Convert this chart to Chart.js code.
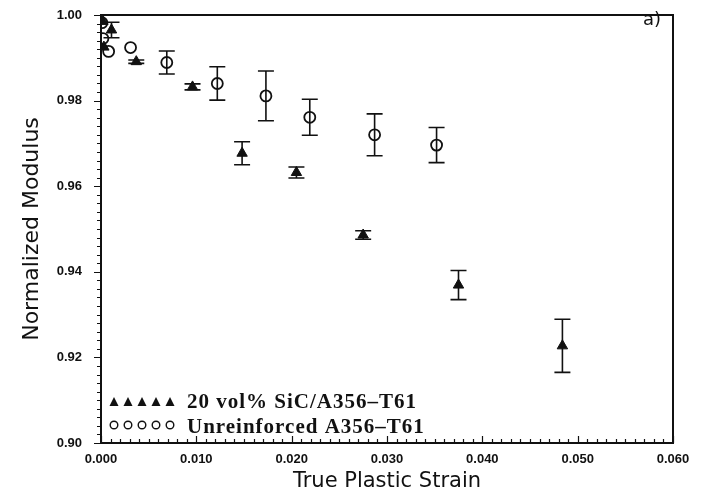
<!DOCTYPE html>
<html>
<head>
<meta charset="utf-8">
<script src="https://cdn.jsdelivr.net/npm/chart.js@4.4.0/dist/chart.umd.min.js"></script>
<style>
  html, body { margin: 0; padding: 0; background: #fff; }
  #wrap { width: 711px; height: 494px; }
</style>
</head>
<body>
<div id="wrap"><canvas id="grafico" width="711" height="494"></canvas></div>
<script>
// 20 vol% SiC/A356-T61 (filled triangles)
const strainSiC = [0.0002, 0.0011, 0.0003, 0.0037, 0.0096, 0.0148, 0.0205, 0.0275, 0.0375, 0.0484];
const modulusSiC = [0.9985, 0.9965, 0.9925, 0.9891, 0.9832, 0.9677, 0.9632, 0.9486, 0.9369, 0.9227];
const errSiC = [0, 0.0018, 0, 0.0004, 0.0007, 0.0027, 0.0013, 0.0010, 0.0034, 0.0062];

// Unreinforced A356-T61 (open circles)
const strainUnr = [0.0001, 0.0002, 0.0008, 0.0031, 0.0069, 0.0122, 0.0173, 0.0219, 0.0287, 0.0352];
const modulusUnr = [0.9982, 0.9945, 0.9915, 0.9924, 0.9889, 0.9840, 0.9811, 0.9761, 0.9720, 0.9696];
const errUnr = [0, 0, 0, 0, 0.0027, 0.0039, 0.0058, 0.0042, 0.0049, 0.0041];

const legendLabels = ['20 vol% SiC/A356\u2013T61', 'Unreinforced A356\u2013T61'];
const xTicks = [0, 0.01, 0.02, 0.03, 0.04, 0.05, 0.06];
const yTicks = [0.90, 0.92, 0.94, 0.96, 0.98, 1.00];

function pontos(xs, ys, errs) {
  return xs.map((x, i) => ({ x: x, y: ys[i], err: errs[i] }));
}

// barras de erro, moldura, ticks menores e legenda
const extras = {
  id: 'extras',
  beforeDatasetsDraw(chart) {
    const ctx = chart.ctx;
    const sx = chart.scales.x;
    const sy = chart.scales.y;
    ctx.save();
    ctx.strokeStyle = '#111';
    ctx.lineWidth = 1.6;
    chart.data.datasets.forEach((ds) => {
      ds.data.forEach((p) => {
        if (!p.err) return;
        const px = sx.getPixelForValue(p.x);
        const top = sy.getPixelForValue(p.y + p.err);
        const bot = sy.getPixelForValue(p.y - p.err);
        ctx.beginPath();
        ctx.moveTo(px, top); ctx.lineTo(px, bot);
        ctx.moveTo(px - 8, top); ctx.lineTo(px + 8, top);
        ctx.moveTo(px - 8, bot); ctx.lineTo(px + 8, bot);
        ctx.stroke();
      });
    });
    ctx.restore();
  },
  afterDraw(chart) {
    const ctx = chart.ctx;
    const a = chart.chartArea;
    const sx = chart.scales.x;
    const sy = chart.scales.y;
    ctx.save();
    ctx.strokeStyle = '#111';
    ctx.lineWidth = 2;
    ctx.strokeRect(a.left, a.top, a.right - a.left, a.bottom - a.top);

    ctx.lineWidth = 1.2;
    ctx.beginPath();
    for (let v = 0.90; v <= 1.0001; v += 0.002) {
      const py = Math.round(sy.getPixelForValue(v)) + 0.5;
      const major = Math.abs(Math.round(v * 50) - v * 50) < 1e-6;
      ctx.moveTo(a.left - (major ? 7 : 4), py);
      ctx.lineTo(a.left, py);
    }
    for (let v = 0; v <= 0.06001; v += 0.001) {
      const px = Math.round(sx.getPixelForValue(v)) + 0.5;
      const major = Math.abs(Math.round(v * 100) - v * 100) < 1e-6;
      ctx.moveTo(px, a.bottom);
      ctx.lineTo(px, a.bottom - (major ? 7 : 4));
    }
    ctx.stroke();

    // legenda dentro do grafico
    ctx.fillStyle = '#111';
    for (let i = 0; i < 5; i++) {
      const cx = 114 + i * 14;
      ctx.beginPath();
      ctx.moveTo(cx, 397);
      ctx.lineTo(cx - 4.5, 406);
      ctx.lineTo(cx + 4.5, 406);
      ctx.closePath();
      ctx.fill();
    }
    ctx.lineWidth = 1.4;
    for (let i = 0; i < 5; i++) {
      ctx.beginPath();
      ctx.arc(114 + i * 14, 425, 3.8, 0, Math.PI * 2);
      ctx.stroke();
    }
    ctx.font = 'bold 21px "Liberation Serif", serif';
    ctx.letterSpacing = '1px';
    ctx.textBaseline = 'middle';
    ctx.textAlign = 'left';
    ctx.fillText(legendLabels[0], 187, 403);
    ctx.fillText(legendLabels[1], 187, 428);

    ctx.letterSpacing = '0px';
    ctx.font = '18px "DejaVu Sans", sans-serif';
    ctx.fillText('a)', 643, 20);
    ctx.restore();
  }
};

new Chart(document.getElementById('grafico').getContext('2d'), {
  type: 'scatter',
  data: {
    datasets: [{
      label: legendLabels[0],
      data: pontos(strainSiC, modulusSiC, errSiC),
      pointStyle: 'triangle',
      pointRadius: 6,
      backgroundColor: '#111',
      borderColor: '#111',
      borderWidth: 1
    }, {
      label: legendLabels[1],
      data: pontos(strainUnr, modulusUnr, errUnr),
      pointStyle: 'circle',
      pointRadius: 5.5,
      backgroundColor: 'rgba(255,255,255,0)',
      borderColor: '#111',
      borderWidth: 1.8
    }]
  },
  options: {
    responsive: false,
    animation: false,
    layout: { padding: { top: 15, right: 38, left: 0, bottom: 0 } },
    plugins: {
      legend: { display: false },
      tooltip: { enabled: false }
    },
    scales: {
      x: {
        type: 'linear',
        min: 0,
        max: 0.06,
        afterBuildTicks: (s) => { s.ticks = xTicks.map(v => ({ value: v })); },
        afterFit: (s) => { s.height = 51; s.paddingLeft = 0; s.paddingRight = 0; },
        grid: { display: false },
        border: { display: true, color: '#111', width: 2 },
        ticks: {
          color: '#111',
          padding: 1,
          maxRotation: 0,
          font: { family: '"Liberation Sans", sans-serif', size: 13, weight: 'bold' },
          callback: (v) => Number(v).toFixed(3)
        },
        title: {
          display: true,
          text: 'True Plastic Strain',
          color: '#111',
          padding: { top: 0, bottom: 0 },
          font: { family: '"DejaVu Sans", sans-serif', size: 21 }
        }
      },
      y: {
        type: 'linear',
        min: 0.90,
        max: 1.00,
        afterBuildTicks: (s) => { s.ticks = yTicks.map(v => ({ value: v })); },
        afterFit: (s) => { s.width = 101; s.paddingTop = 0; s.paddingBottom = 0; },
        grid: { display: false },
        border: { display: true, color: '#111', width: 2 },
        ticks: {
          color: '#111',
          padding: 11,
          font: { family: '"Liberation Sans", sans-serif', size: 13, weight: 'bold' },
          callback: (v) => Number(v).toFixed(2)
        },
        title: {
          display: true,
          text: 'Normalized Modulus',
          color: '#111',
          padding: { top: 19, bottom: 0 },
          font: { family: '"DejaVu Sans", sans-serif', size: 22 }
        }
      }
    }
  },
  plugins: [extras]
});
</script>
</body>
</html>
